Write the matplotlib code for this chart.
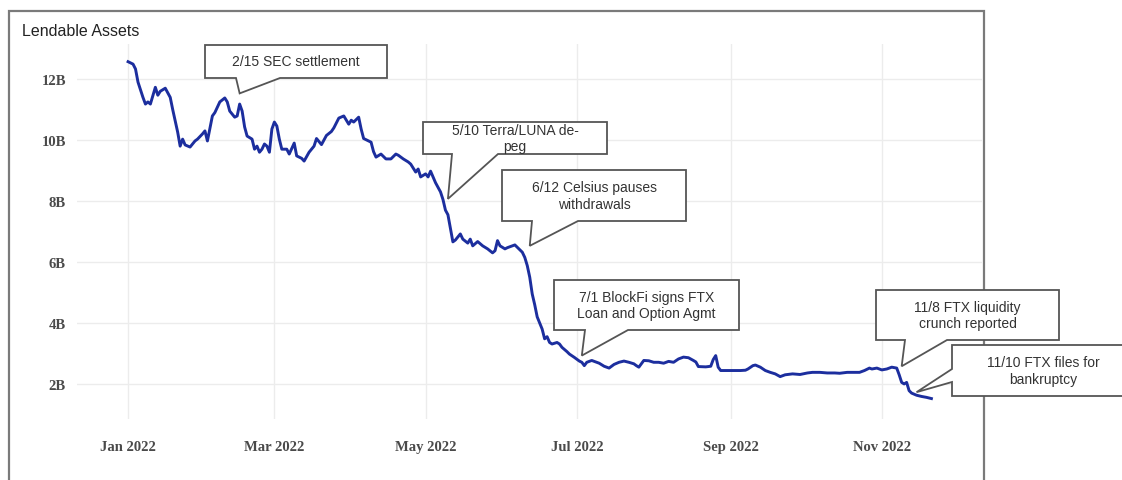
import matplotlib.pyplot as plt
import matplotlib.dates as mdates
from matplotlib.patches import Polygon, Rectangle
import numpy as np
import pandas as pd

# days since 2022-01-01 and lendable assets in $B
day_offset = [
    0, 2, 3, 4, 6, 7, 8, 9, 11, 12, 13, 15, 17, 18, 20, 21, 22, 23, 25, 27,
    28, 30, 31, 32, 34, 35, 37, 39, 40, 41, 43, 44, 45, 46, 47, 48, 50, 51, 52, 53,
    54, 55, 56, 57, 58, 59, 60, 61, 62, 64, 65, 67, 68, 70, 71, 73, 75, 76, 78, 80,
    82, 83, 85, 87, 89, 90, 91, 93, 94, 95, 97, 98, 99, 100, 102, 104, 106, 108, 109, 111,
    113, 114, 116, 117, 118, 120, 121, 122, 124, 125, 126, 127, 128, 129, 130, 131, 132, 134, 135, 137,
    138, 139, 141, 143, 145, 147, 148, 149, 150, 152, 153, 155, 156, 157, 159, 160, 161, 162, 163, 164,
    165, 167, 168, 169, 170, 171, 173, 174, 175, 177, 178, 180, 182, 183, 184, 185, 187, 189, 190, 192,
    194, 196, 198, 200, 202, 204, 205, 206, 208, 210, 212, 214, 216, 218, 220, 222, 224, 226, 228, 229,
    230, 233, 235, 236, 237, 238, 239, 242, 245, 247, 249, 250, 252, 253, 255, 257, 259, 261, 263, 265,
    268, 271, 274, 276, 279, 282, 285, 287, 290, 293, 295, 297, 299, 300, 302, 304, 306, 308, 310, 311,
    312, 313, 314, 315, 316, 318, 320, 322, 324,
]
lendable_b = [
    12.57, 12.49, 12.33, 11.90, 11.40, 11.18, 11.25, 11.18, 11.73, 11.47, 11.60, 11.70, 11.40, 11.00, 10.26, 9.80, 10.03, 9.84, 9.77, 9.97,
    10.03, 10.20, 10.30, 9.97, 10.79, 10.90, 11.25, 11.38, 11.25, 10.95, 10.75, 10.79, 11.18, 10.95, 10.43, 10.13, 10.03, 9.70, 9.80, 9.60,
    9.70, 9.87, 9.80, 9.60, 10.36, 10.59, 10.46, 10.03, 9.70, 9.70, 9.54, 9.90, 9.48, 9.40, 9.31, 9.60, 9.80, 10.05, 9.85, 10.15,
    10.28, 10.40, 10.72, 10.79, 10.52, 10.65, 10.59, 10.75, 10.36, 10.05, 9.97, 9.93, 9.62, 9.44, 9.54, 9.38, 9.38, 9.54, 9.50, 9.38,
    9.28, 9.21, 8.95, 9.05, 8.79, 8.89, 8.79, 8.98, 8.60, 8.45, 8.30, 8.05, 7.70, 7.55, 7.10, 6.66, 6.72, 6.92, 6.75, 6.62,
    6.75, 6.53, 6.67, 6.53, 6.43, 6.30, 6.37, 6.70, 6.53, 6.43, 6.47, 6.53, 6.56, 6.48, 6.32, 6.15, 5.88, 5.50, 4.95, 4.60,
    4.20, 3.80, 3.48, 3.55, 3.36, 3.31, 3.36, 3.31, 3.20, 3.06, 2.98, 2.87, 2.75, 2.71, 2.60, 2.71, 2.77, 2.71, 2.68, 2.58,
    2.52, 2.64, 2.71, 2.75, 2.71, 2.66, 2.60, 2.55, 2.77, 2.76, 2.71, 2.71, 2.68, 2.74, 2.71, 2.82, 2.88, 2.86, 2.77, 2.72,
    2.57, 2.56, 2.58, 2.80, 2.93, 2.55, 2.44, 2.44, 2.44, 2.44, 2.45, 2.49, 2.60, 2.62, 2.55, 2.44, 2.38, 2.33, 2.24, 2.30,
    2.33, 2.31, 2.36, 2.38, 2.38, 2.36, 2.36, 2.35, 2.38, 2.38, 2.38, 2.44, 2.52, 2.49, 2.52, 2.46, 2.49, 2.55, 2.52, 2.30,
    2.05, 2.00, 2.05, 1.78, 1.70, 1.63, 1.59, 1.56, 1.52,
]

y_ticks = [2, 4, 6, 8, 10, 12]
x_ticks = ["2022-01-01", "2022-03-01", "2022-05-01", "2022-07-01", "2022-09-01", "2022-11-01"]
x_tick_labels = ["Jan 2022", "Mar 2022", "May 2022", "Jul 2022", "Sep 2022", "Nov 2022"]

event_texts = [
    "2/15 SEC settlement",
    "5/10 Terra/LUNA de-\npeg",
    "6/12 Celsius pauses\nwithdrawals",
    "7/1 BlockFi signs FTX\nLoan and Option Agmt",
    "11/8 FTX liquidity\ncrunch reported",
    "11/10 FTX files for\nbankruptcy",
]
# where each callout tail points (date, $B)
event_tip_dates = ["2022-02-15", "2022-05-10", "2022-06-12", "2022-07-03", "2022-11-09", "2022-11-15"]
event_tip_values = [11.53, 8.07, 6.53, 2.93, 2.58, 1.73]

W, H = 1122, 481
start = pd.Timestamp("2022-01-01")
dates = start + pd.to_timedelta(day_offset, unit="D")


def px(x, y):
    # figure pixel (from top-left) -> figure fraction
    return (x / W, 1 - y / H)


fig = plt.figure(figsize=(W / 100, H / 100), dpi=100)
ax = fig.add_axes([77 / W, 1 - 420 / H, (982 - 77) / W, (420 - 45) / H])
ax.set_facecolor("none")

ax.plot(dates, lendable_b, color="#1c2e9e", linewidth=2.1, solid_joinstyle="round", zorder=3)

ax.set_xlim(start - pd.Timedelta(days=20.6), start + pd.Timedelta(days=344.4))
ax.set_ylim(0.85, 13.15)

ax.set_yticks(y_ticks)
ax.set_yticklabels([f"{v}B" for v in y_ticks])
ax.set_xticks(pd.to_datetime(x_ticks))
ax.set_xticklabels(x_tick_labels)
ax.tick_params(axis="both", length=0, labelsize=10.5, labelcolor="#4a4a4a")
ax.tick_params(axis="y", pad=8)
ax.tick_params(axis="x", pad=15)
for lab in ax.get_xticklabels() + ax.get_yticklabels():
    lab.set_fontfamily("Liberation Serif")
    lab.set_fontweight("bold")

ax.grid(True, color="#ececec", linewidth=1.0)
ax.set_axisbelow(True)
for s in ax.spines.values():
    s.set_visible(False)

# outer frame
(fx0, fy0), (fx1, fy1) = px(9, 495), px(984, 12)
fig.add_artist(Rectangle((fx0, fy0), fx1 - fx0, fy1 - fy0, transform=fig.transFigure,
                         fill=False, edgecolor="#7a7a7a", linewidth=1.6, zorder=1))

fig.text(*px(22, 31), "Lendable Assets", family="Liberation Sans", fontsize=11.5,
         color="#222222", ha="left", va="center")

# callout boxes: (left, top, right, bottom) in px, tail base, tail side, text x
boxes = [
    ((205, 46, 387, 79), (236, 280), "bottom", None),
    ((423, 123, 607, 155), (452, 498), "bottom", None),
    ((502, 171, 686, 222), (532, 578), "bottom", None),
    ((554, 281, 739, 331), (585, 628), "bottom", None),
    ((876, 291, 1059, 341), (905, 947), "bottom", None),
    ((952, 346, 1135, 397), (370, 383), "left", 1043),
]

to_fig = fig.transFigure.inverted()
for text, tip_d, tip_v, (box, base, side, tx) in zip(event_texts, event_tip_dates,
                                                     event_tip_values, boxes):
    tip = to_fig.transform(ax.transData.transform((mdates.date2num(pd.Timestamp(tip_d)), tip_v)))
    l, t, r, b = box
    if side == "bottom":
        verts = [px(l, t), px(r, t), px(r, b), px(base[1], b), tuple(tip), px(base[0], b), px(l, b)]
    else:
        verts = [px(l, t), px(r, t), px(r, b), px(l, b), px(l, base[1]), tuple(tip), px(l, base[0])]
    fig.add_artist(Polygon(verts, closed=True, transform=fig.transFigure, facecolor="white",
                           edgecolor="#555555", linewidth=1.3, zorder=5, clip_on=False))
    cx = (l + r) / 2 if tx is None else tx
    fig.text(*px(cx, (t + b) / 2), text, family="Liberation Sans", fontsize=10,
             color="#333333", ha="center", va="center", linespacing=1.25, zorder=6)

fig.savefig("out.png", dpi=100)
